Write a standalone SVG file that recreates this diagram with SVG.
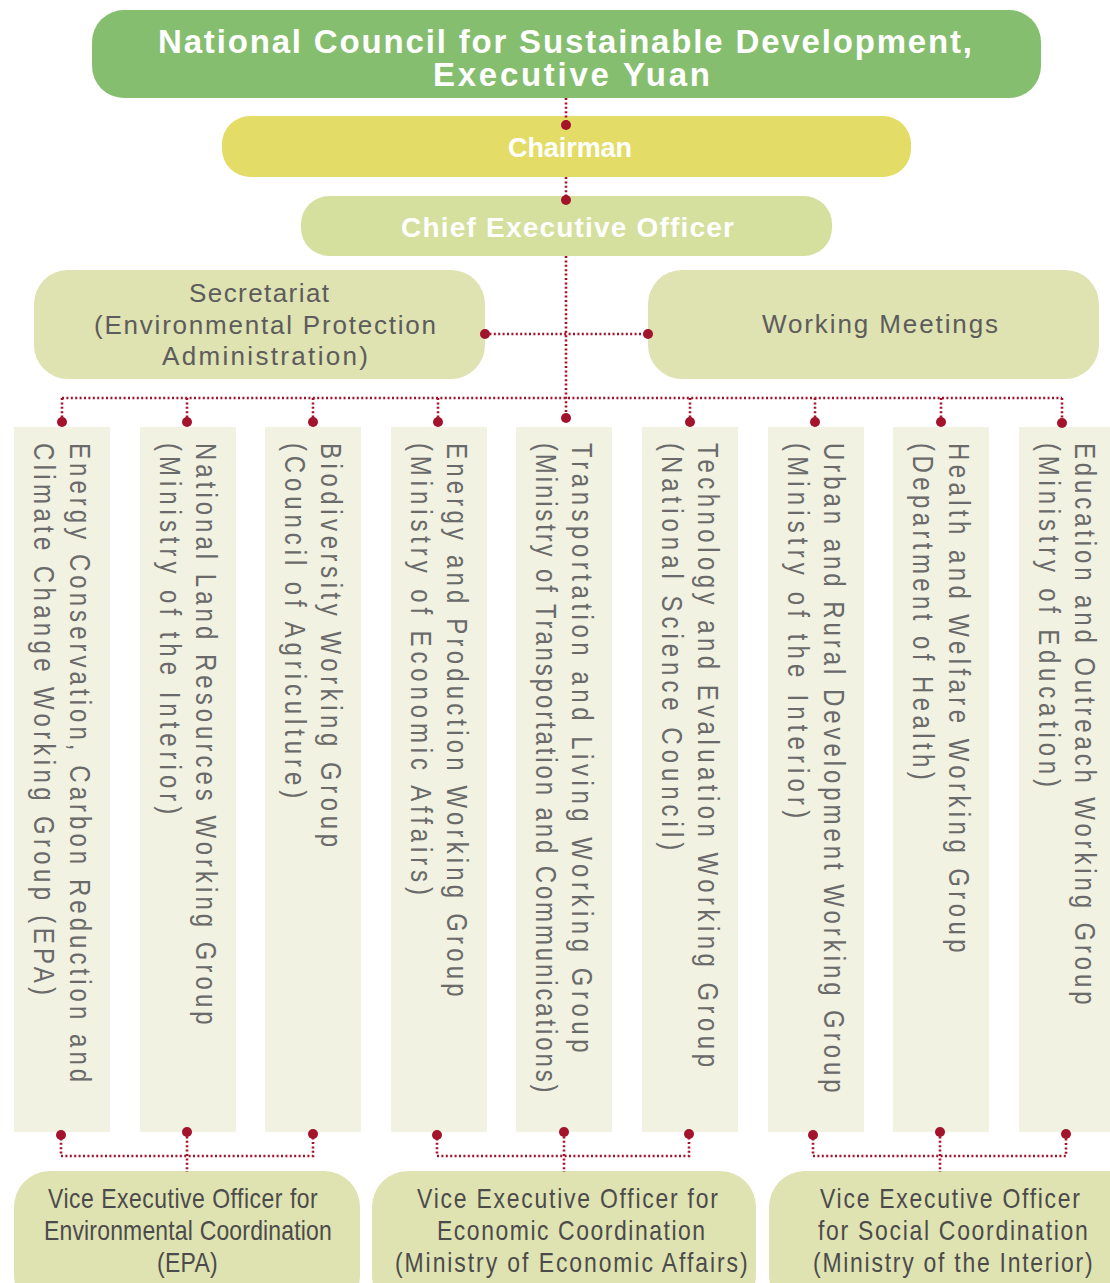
<svg xmlns="http://www.w3.org/2000/svg" width="1110" height="1283" viewBox="0 0 1110 1283">
<style>
.bold{font-family:"Liberation Sans",Arial,sans-serif;font-weight:bold;fill:#ffffff}
.mid{font-family:"Liberation Sans",Arial,sans-serif;font-size:26px;fill:#5c5c5c}
.col{font-family:"Liberation Sans",Arial,sans-serif;font-size:30px;fill:#6a6a6a}
.vice{font-family:"Liberation Sans",Arial,sans-serif;font-size:28px;fill:#4b4b4b}
.colbox{fill:#F1F2E1}
.pale{fill:#DFE2B1}
.dot{stroke:#A3132C;stroke-width:2.6;stroke-dasharray:2 2.4;fill:none}
.pt{fill:#A3132C}
</style>
<rect width="1110" height="1283" fill="#ffffff"/>

<g id="council">
<rect x="92" y="10" width="949" height="88" rx="32" fill="#86BE6F"/>
<text class="bold" x="158" y="53" font-size="33" textLength="814">National Council for Sustainable Development,</text>
<text class="bold" x="433" y="86" font-size="33" textLength="277">Executive Yuan</text>
</g>

<g id="chairman">
<rect x="222" y="116" width="689" height="61" rx="28" fill="#E3DC66"/>
<text class="bold" x="508" y="157" font-size="27" textLength="124">Chairman</text>
</g>

<g id="ceo">
<rect x="301" y="196" width="531" height="60" rx="28" fill="#D5DF9E"/>
<text class="bold" x="401" y="237" font-size="28" textLength="333">Chief Executive Officer</text>
</g>

<g id="secretariat">
<rect class="pale" x="34" y="270" width="451" height="109" rx="34"/>
<text class="mid" x="189" y="302" textLength="140">Secretariat</text>
<text class="mid" x="94" y="334" textLength="342">(Environmental Protection</text>
<text class="mid" x="162" y="365" textLength="206">Administration)</text>
</g>

<g id="working-meetings">
<rect class="pale" x="648" y="270" width="451" height="109" rx="34"/>
<text class="mid" x="762" y="333" textLength="236">Working Meetings</text>
</g>

<g id="wg1">
<rect class="colbox" x="14" y="427" width="96" height="705"/>
<text class="col" transform="translate(70,443) rotate(90) scale(0.8,1)" textLength="799">Energy Conservation, Carbon Reduction and</text>
<text class="col" transform="translate(34,443) rotate(90) scale(0.8,1)" textLength="690">Climate Change Working Group (EPA)</text>
</g>
<g id="wg2">
<rect class="colbox" x="140" y="427" width="96" height="705"/>
<text class="col" transform="translate(196,443) rotate(90) scale(0.8,1)" textLength="727">National Land Resources Working Group</text>
<text class="col" transform="translate(160,443) rotate(90) scale(0.8,1)" textLength="464">(Ministry of the Interior)</text>
</g>
<g id="wg3">
<rect class="colbox" x="265" y="427" width="96" height="705"/>
<text class="col" transform="translate(321,443) rotate(90) scale(0.8,1)" textLength="505">Biodiversity Working Group</text>
<text class="col" transform="translate(285,443) rotate(90) scale(0.8,1)" textLength="444">(Council of Agriculture)</text>
</g>
<g id="wg4">
<rect class="colbox" x="391" y="427" width="96" height="705"/>
<text class="col" transform="translate(447,443) rotate(90) scale(0.8,1)" textLength="692">Energy and Production Working Group</text>
<text class="col" transform="translate(411,443) rotate(90) scale(0.8,1)" textLength="565">(Ministry of Economic Affairs)</text>
</g>
<g id="wg5">
<rect class="colbox" x="516" y="427" width="96" height="705"/>
<text class="col" transform="translate(572,443) rotate(90) scale(0.8,1)" textLength="762">Transportation and Living Working Group</text>
<text class="col" transform="translate(536,443) rotate(90) scale(0.8,1)" textLength="812">(Ministry of Transportation and Communications)</text>
</g>
<g id="wg6">
<rect class="colbox" x="642" y="427" width="96" height="705"/>
<text class="col" transform="translate(698,443) rotate(90) scale(0.8,1)" textLength="780">Technology and Evaluation Working Group</text>
<text class="col" transform="translate(662,443) rotate(90) scale(0.8,1)" textLength="509">(National Science Council)</text>
</g>
<g id="wg7">
<rect class="colbox" x="768" y="427" width="96" height="705"/>
<text class="col" transform="translate(824,443) rotate(90) scale(0.8,1)" textLength="812">Urban and Rural Development Working Group</text>
<text class="col" transform="translate(788,443) rotate(90) scale(0.8,1)" textLength="469">(Ministry of the Interior)</text>
</g>
<g id="wg8">
<rect class="colbox" x="893" y="427" width="96" height="705"/>
<text class="col" transform="translate(949,443) rotate(90) scale(0.8,1)" textLength="637">Health and Welfare Working Group</text>
<text class="col" transform="translate(913,443) rotate(90) scale(0.8,1)" textLength="421">(Department of Health)</text>
</g>
<g id="wg9">
<rect class="colbox" x="1019" y="427" width="96" height="705"/>
<text class="col" transform="translate(1075,443) rotate(90) scale(0.8,1)" textLength="702">Education and Outreach Working Group</text>
<text class="col" transform="translate(1039,443) rotate(90) scale(0.8,1)" textLength="430">(Ministry of Education)</text>
</g>

<g id="vice-env">
<rect class="pale" x="14" y="1171" width="346" height="140" rx="36"/>
<text class="vice" transform="translate(48,1208) scale(0.82,1)" textLength="329">Vice Executive Officer for</text>
<text class="vice" transform="translate(44,1240) scale(0.82,1)" textLength="351">Environmental Coordination</text>
<text class="vice" transform="translate(157,1272) scale(0.82,1)" textLength="74">(EPA)</text>
</g>
<g id="vice-econ">
<rect class="pale" x="372" y="1171" width="384" height="140" rx="36"/>
<text class="vice" transform="translate(417,1208) scale(0.82,1)" textLength="367">Vice Executive Officer for</text>
<text class="vice" transform="translate(437,1240) scale(0.82,1)" textLength="327">Economic Coordination</text>
<text class="vice" transform="translate(395,1272) scale(0.82,1)" textLength="430">(Ministry of Economic Affairs)</text>
</g>
<g id="vice-social">
<rect class="pale" x="769" y="1171" width="380" height="140" rx="36"/>
<text class="vice" transform="translate(820,1208) scale(0.82,1)" textLength="317">Vice Executive Officer</text>
<text class="vice" transform="translate(818,1240) scale(0.82,1)" textLength="329">for Social Coordination</text>
<text class="vice" transform="translate(813,1272) scale(0.82,1)" textLength="341">(Ministry of the Interior)</text>
</g>

<g id="connectors">
<path class="dot" d="M566 98V125M566 177V200M566 256V418M485 334H648M62 398H1062"/>
<path class="dot" d="M62 398V422M187 398V422M313 398V422M438 398V422M690 398V422M815 398V422M941 398V422M1062 398V423"/>
<path class="dot" d="M61 1134V1156H313V1134M187 1132V1172"/>
<path class="dot" d="M437 1134V1156H689V1134M564 1132V1172"/>
<path class="dot" d="M813 1134V1156H1066V1134M940 1132V1172"/>
<circle class="pt" cx="566" cy="125" r="5"/>
<circle class="pt" cx="566" cy="200" r="5"/>
<circle class="pt" cx="485" cy="334" r="5"/>
<circle class="pt" cx="648" cy="334" r="5"/>
<circle class="pt" cx="62" cy="422" r="5"/>
<circle class="pt" cx="187" cy="422" r="5"/>
<circle class="pt" cx="313" cy="422" r="5"/>
<circle class="pt" cx="438" cy="422" r="5"/>
<circle class="pt" cx="566" cy="418" r="5"/>
<circle class="pt" cx="690" cy="422" r="5"/>
<circle class="pt" cx="815" cy="422" r="5"/>
<circle class="pt" cx="941" cy="422" r="5"/>
<circle class="pt" cx="1062" cy="423" r="5"/>
<circle class="pt" cx="61" cy="1135" r="5"/>
<circle class="pt" cx="187" cy="1132" r="5"/>
<circle class="pt" cx="313" cy="1134" r="5"/>
<circle class="pt" cx="437" cy="1135" r="5"/>
<circle class="pt" cx="564" cy="1132" r="5"/>
<circle class="pt" cx="689" cy="1134" r="5"/>
<circle class="pt" cx="813" cy="1135" r="5"/>
<circle class="pt" cx="940" cy="1132" r="5"/>
<circle class="pt" cx="1066" cy="1134" r="5"/>
</g>
</svg>
